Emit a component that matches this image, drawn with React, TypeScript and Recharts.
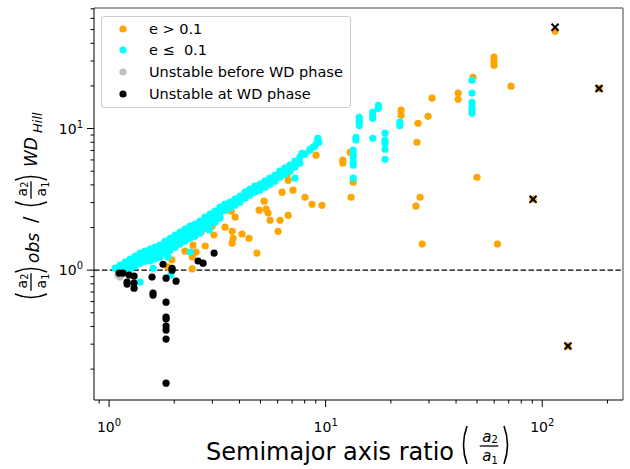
import React from 'react';
import { ScatterChart, Scatter, XAxis, YAxis, ReferenceLine } from 'recharts';

// e > 0.1 (orange)
const eccHigh: [number, number][] = [
  [114.6, 48.6], [182.9, 19.2], [90.7, 3.17], [131.5, 0.291],
  [59.9, 31.9], [59.9, 29.9], [59.9, 28.0], [71.8, 19.9], [50.0, 4.53], [47.9, 23.0],
  [40.9, 17.8], [40.9, 16.1], [31.0, 16.4], [29.7, 12.2], [26.7, 10.9], [26.4, 8.0],
  [27.3, 3.27], [26.1, 2.83], [27.9, 1.53], [62.1, 1.53], [22.3, 13.5], [22.3, 12.4],
  [13.1, 3.27], [13.4, 4.18], [12.97, 6.8], [12.0, 5.98], [12.0, 5.7], [9.03, 6.48],
  [8.03, 3.27], [8.65, 2.92], [9.62, 2.87],
  [6.63, 4.68], [6.71, 4.32], [6.29, 3.55], [7.07, 3.67], [5.2, 3.07], [4.93, 2.65],
  [5.31, 2.7], [5.42, 2.53], [5.54, 2.25], [6.16, 2.25], [6.71, 2.44], [6.03, 1.88],
  [3.66, 2.61], [3.82, 2.37], [3.62, 2.65], [3.43, 2.01], [3.7, 1.88], [3.74, 1.68],
  [3.7, 1.55], [4.11, 1.8], [4.43, 1.68], [4.82, 1.32], [2.99, 2.04], [3.05, 1.77],
  [2.66, 1.85], [2.47, 1.74], [2.44, 1.5], [2.78, 1.48], [2.24, 1.36], [2.52, 1.34],
  [2.42, 1.24], [2.42, 1.02], [1.91, 1.38], [1.95, 1.18], [1.87, 1.05],
];

// e <= 0.1 (cyan)
const eccLow: [number, number][] = [
  [47.4, 21.9], [47.4, 17.8], [47.4, 15.3], [47.4, 14.1], [47.4, 13.4], [47.4, 12.8],
  [22.0, 11.1], [22.0, 10.5],
  [18.8, 9.27], [18.8, 8.27], [18.8, 7.88], [18.8, 7.14], [18.8, 6.07],
  [16.5, 13.0], [16.5, 12.4], [16.5, 11.8], [16.5, 8.54], [17.5, 14.6], [17.5, 13.9],
  [14.3, 12.0], [14.3, 11.5], [14.3, 11.1], [14.3, 10.5], [13.8, 8.68], [13.8, 8.3],
  [13.4, 7.03], [13.4, 6.6], [13.4, 6.27], [13.4, 5.78], [13.4, 5.51], [13.4, 4.46],
  [8.75, 7.38], [9.12, 8.0], [8.47, 7.14], [9.2, 8.54], [7.78, 6.69], [7.22, 4.46],
  [2.9, 1.92], [2.37, 1.34], [1.6, 1.03], [1.87, 1.24], [1.39, 0.823], [1.93, 0.922],
  // main band, upper edge
  [1.066, 1.033], [1.124, 1.085], [1.186, 1.139], [1.25, 1.196], [1.318, 1.255],
  [1.39, 1.318], [1.466, 1.36], [1.546, 1.41], [1.63, 1.453], [1.719, 1.501],
  [1.813, 1.6], [1.912, 1.68], [2.016, 1.766], [2.126, 1.854], [2.242, 1.947],
  [2.364, 2.044], [2.493, 2.111], [2.629, 2.217], [2.772, 2.366], [2.924, 2.484],
  [3.083, 2.608], [3.251, 2.783], [3.429, 2.922], [3.616, 3.019], [3.813, 3.17],
  [4.021, 3.328], [4.24, 3.552], [4.471, 3.729], [4.715, 3.916], [4.972, 4.045],
  [5.243, 4.247], [5.529, 4.459], [5.831, 4.682], [6.149, 4.996], [6.484, 5.245],
  [6.837, 5.508], [7.21, 5.878], [7.603, 6.273], [8.018, 6.587], [8.455, 7.029],
  [8.916, 7.5], [9.32, 8.0], [9.2, 8.4],
  // main band, middle
  [1.124, 0.984], [1.186, 1.033], [1.25, 1.085], [1.318, 1.138], [1.39, 1.195],
  [1.466, 1.235], [1.546, 1.276], [1.63, 1.318], [1.719, 1.361], [1.813, 1.453],
  [1.912, 1.525], [2.016, 1.602], [2.126, 1.682], [2.242, 1.766], [2.364, 1.854],
  [2.493, 1.915], [2.629, 2.011],
  // main band, lower edge
  [1.25, 1.017], [1.318, 1.067], [1.39, 1.12], [1.466, 1.157], [1.546, 1.158],
  [1.63, 1.196], [1.719, 1.235], [1.813, 1.318], [1.912, 1.384], [2.016, 1.453],
  [2.126, 1.526], [2.242, 1.602], [2.364, 1.682], [2.493, 1.737], [2.629, 1.825],
  [2.772, 2.146], [2.924, 2.253], [3.083, 2.365], [3.251, 2.524], [3.429, 2.65],
  [3.616, 2.738], [3.813, 2.875], [4.021, 3.018], [4.24, 3.222], [4.471, 3.382],
  [4.715, 3.552], [4.972, 3.669], [5.243, 3.852], [5.529, 4.044], [5.831, 4.247],
  [6.149, 4.531], [6.484, 4.757], [6.837, 4.996], [7.21, 5.331], [7.603, 5.69],
  [2.772, 1.978], [2.924, 2.077], [3.083, 2.18], [3.251, 2.327],
];

// unstable before WD phase (grey)
const unstableBefore: [number, number][] = [
  [1.124, 0.893], [1.1, 0.92],
];

// unstable at WD phase (black)
const unstableAt: [number, number][] = [
  [1.112, 0.953], [1.161, 0.953], [1.211, 0.823], [1.211, 0.797], [1.237, 0.922],
  [1.304, 0.907], [1.304, 0.81], [1.304, 0.746], [1.579, 0.893], [1.596, 0.688],
  [1.596, 0.666], [1.775, 1.1], [1.833, 0.878], [1.954, 1.03], [1.954, 1.0],
  [2.039, 0.836], [1.833, 0.594], [1.833, 0.466], [1.833, 0.451], [1.833, 0.403],
  [1.833, 0.377], [1.833, 0.326], [1.833, 0.159], [2.576, 1.16], [2.716, 1.12],
  [3.053, 1.32],
];

// crossed systems
const crossed: [number, number][] = [
  [114.6, 51.9], [182.9, 19.2], [90.7, 3.17], [131.5, 0.291],
];

const xTicks = [0.9, 1, 2, 3, 4, 5, 6, 7, 8, 9, 10, 20, 30, 40, 50, 60, 70, 80, 90, 100, 200];
const yTicks = [0.2, 0.3, 0.4, 0.5, 0.6, 0.7, 0.8, 0.9, 1, 2, 3, 4, 5, 6, 7, 8, 9, 10, 20, 30, 40, 50, 60, 70];
const xDomain = [0.852, 236];
const yDomain = [0.121, 71];

const legendItems = [
  { label: 'e > 0.1', color: '#FFA500' },
  { label: 'e \u2264  0.1', color: '#00FFFF' },
  { label: 'Unstable before WD phase', color: '#C0C0C0' },
  { label: 'Unstable at WD phase', color: '#000000' },
];

const FONT = 'DejaVu Sans, sans-serif';

const toPts = (arr: [number, number][]) => arr.map(([x, y]) => ({ x, y }));

const exponentOf = (v: number) => {
  const l = Math.log10(v);
  return Math.abs(l - Math.round(l)) < 1e-9 ? Math.round(l) : null;
};

const XTick = (props: any) => {
  const { x, y, payload } = props;
  const e = exponentOf(payload.value);
  const major = e !== null;
  return (
    <g>
      <line x1={x} x2={x} y1={y} y2={y + (major ? 7 : 3.5)} stroke="#000" strokeWidth={1} />
      {major && (
        <text x={x} y={y + 32} textAnchor="middle" fontFamily={FONT} fontSize={14} fill="#000">
          10<tspan dy={-6} fontSize={10}>{e}</tspan>
        </text>
      )}
    </g>
  );
};

const YTick = (props: any) => {
  const { x, y, payload } = props;
  const e = exponentOf(payload.value);
  const major = e !== null;
  return (
    <g>
      <line x1={x} x2={x - (major ? 7 : 3.5)} y1={y} y2={y} stroke="#000" strokeWidth={1} />
      {major && (
        <text x={x - 11} y={y + 5} textAnchor="end" fontFamily={FONT} fontSize={14} fill="#000">
          10<tspan dy={-6} fontSize={10}>{e}</tspan>
        </text>
      )}
    </g>
  );
};

const makeDot = (color: string) => (props: any) => {
  const { cx, cy } = props;
  if (cx == null || cy == null) return <g />;
  return <circle cx={cx} cy={cy} r={3.6} fill={color} />;
};

const Cross = (props: any) => {
  const { cx, cy } = props;
  if (cx == null || cy == null) return <g />;
  const s = 3.5;
  return (
    <g stroke="#000" strokeWidth={2}>
      <line x1={cx - s} y1={cy - s} x2={cx + s} y2={cy + s} />
      <line x1={cx - s} y1={cy + s} x2={cx + s} y2={cy - s} />
    </g>
  );
};

const Frac = ({ cx, top, size, italic }: { cx: number; top: number; size: number; italic?: boolean }) => {
  // a_2 / a_1 fraction; top = y of bar
  const fs = size;
  const ss = size * 0.7;
  const st = italic ? 'italic' : 'normal';
  const half = size * 0.62;
  const denBase = top + Math.ceil(size * 0.93) + 0.5;
  return (
    <g fontFamily={FONT} fill="#000">
      <text x={cx - size * 0.15} y={top - 4} fontSize={fs} fontStyle={st} textAnchor="middle">a</text>
      <text x={cx + size * 0.38} y={top - 3} fontSize={ss} textAnchor="middle">2</text>
      <line x1={cx - half} x2={cx + half} y1={top} y2={top} stroke="#000" strokeWidth={1.3} />
      <text x={cx - size * 0.15} y={denBase} fontSize={fs} fontStyle={st} textAnchor="middle">a</text>
      <text x={cx + size * 0.38} y={denBase + 3} fontSize={ss} textAnchor="middle">1</text>
    </g>
  );
};

const paren = (x: number, yMid: number, h: number, open: boolean) => {
  const w = open ? -7 : 7;
  const x0 = open ? x + 6 : x;
  return (
    <path
      d={`M ${x0} ${yMid - h / 2} Q ${x0 + w} ${yMid} ${x0} ${yMid + h / 2}`}
      stroke="#000"
      strokeWidth={1.6}
      fill="none"
    />
  );
};

export default function App() {
  return (
    <div style={{ position: 'absolute', left: 0, top: 0, width: 630, height: 469, background: '#fff' }}>
      <ScatterChart width={630} height={469} margin={{ top: 8, right: 7, bottom: 29, left: 34 }}>
        <XAxis
          type="number"
          dataKey="x"
          scale="log"
          domain={xDomain}
          allowDataOverflow
          ticks={xTicks}
          interval={0}
          tick={<XTick />}
          tickLine={false}
          tickSize={0}
          tickMargin={0}
          axisLine={{ stroke: '#000', strokeWidth: 1 }}
          height={40}
        />
        <YAxis
          type="number"
          dataKey="y"
          scale="log"
          domain={yDomain}
          allowDataOverflow
          ticks={yTicks}
          interval={0}
          tick={<YTick />}
          tickLine={false}
          tickSize={0}
          tickMargin={0}
          axisLine={{ stroke: '#000', strokeWidth: 1 }}
          width={60}
        />
        <ReferenceLine y={yDomain[1]} stroke="#808080" strokeWidth={1.5} />
        <ReferenceLine x={xDomain[1]} stroke="#808080" strokeWidth={1.5} />
        <ReferenceLine y={1} stroke="#000" strokeWidth={1.3} strokeDasharray="5.5 2.4" />
        <Scatter data={toPts(eccHigh)} shape={makeDot('#FFA500')} isAnimationActive={false} />
        <Scatter data={toPts(eccLow)} shape={makeDot('#00FFFF')} isAnimationActive={false} />
        <Scatter data={toPts(unstableBefore)} shape={makeDot('#C0C0C0')} isAnimationActive={false} />
        <Scatter data={toPts(unstableAt)} shape={makeDot('#000000')} isAnimationActive={false} />
        <Scatter data={toPts(crossed)} shape={Cross} isAnimationActive={false} />
      </ScatterChart>
      <svg
        width={630}
        height={469}
        style={{ position: 'absolute', left: 0, top: 0, pointerEvents: 'none' }}
      >
        {/* x label */}
        <text x={206} y={460} fontFamily={FONT} fontSize={24} fill="#000">Semimajor axis ratio</text>
        {paren(461, 445, 38, true)}
        <Frac cx={489} top={446} size={15} italic />
        {paren(504, 445, 38, false)}
        {/* y label */}
        <g transform="translate(31,300) rotate(-90)">
          {paren(0, 0, 32, true)}
          <Frac cx={18} top={0} size={14} />
          {paren(28, 0, 32, false)}
          <text x={37} y={8} fontFamily={FONT} fontSize={17} fontStyle="italic" fill="#000">obs</text>
          <text x={77} y={6} fontFamily={FONT} fontSize={19} fill="#000">/</text>
          {paren(92, 0, 32, true)}
          <Frac cx={110} top={0} size={14} />
          {paren(120, 0, 32, false)}
          <text x={133} y={6} fontFamily={FONT} fontSize={17} fontStyle="italic" fill="#000">WD</text>
          <text x={167} y={11} fontFamily={FONT} fontSize={13} fontStyle="italic" fill="#000">Hill</text>
        </g>
      </svg>
      <div
        style={{
          position: 'absolute',
          left: 101,
          top: 16,
          width: 248,
          height: 90,
          border: '1px solid #cccccc',
          borderRadius: 3,
          background: 'rgba(255,255,255,0.8)',
          fontFamily: FONT,
          fontSize: 14.5,
          color: '#000',
        }}
      >
        {legendItems.map((it, i) => (
          <div
            key={it.label}
            style={{ position: 'absolute', left: 0, top: 1.7 + i * 21.7, height: 20, display: 'flex', alignItems: 'center', whiteSpace: 'pre' }}
          >
            <svg width={30} height={20} style={{ marginLeft: 6 }}>
              <circle cx={15} cy={10} r={3.6} fill={it.color} />
            </svg>
            <span style={{ marginLeft: 11 }}>{it.label}</span>
          </div>
        ))}
      </div>
    </div>
  );
}
